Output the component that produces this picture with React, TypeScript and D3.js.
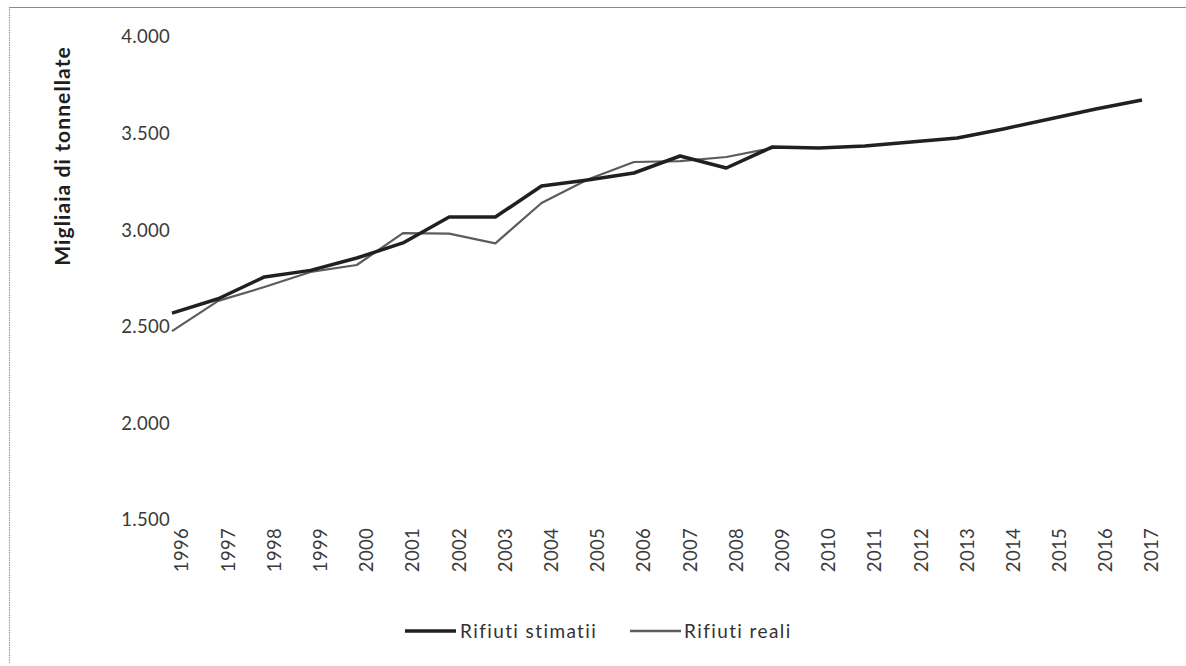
import React from "react";
import * as d3 from "d3";

const years = ["1996","1997","1998","1999","2000","2001","2002","2003","2004","2005","2006","2007","2008","2009","2010","2011","2012","2013","2014","2015","2016","2017"];
const stimati = [2571,2645,2758,2792,2856,2934,3068,3068,3229,3260,3296,3384,3322,3431,3425,3436,3457,3477,3524,3576,3627,3674];
const reali = [2478,2634,2706,2784,2820,2985,2982,2932,3141,3262,3353,3358,3379,3425];
const yTicks = [1500,2000,2500,3000,3500,4000];
const seriesNames = ["Rifiuti stimatii","Rifiuti reali"];

const W = 1186, H = 666;
const FONT = "Lato, 'Open Sans', sans-serif";

export default function App() {
  const x = d3.scalePoint<string>().domain(years).range([172, 1142]);
  const y = d3.scaleLinear().domain([1500, 4000]).range([520, 37]);
  const fmt = (v: number) => d3.format(",")(v).replace(/,/g, ".");
  const line = d3.line<number>().x((_, i) => x(years[i]) as number).y((d) => y(d));

  return (
    <svg width={W} height={H} style={{ position: "absolute", left: 0, top: 0, background: "#fff" }}>
      <rect x={0} y={0} width={W} height={H} fill="#fff" />
      <line x1={9} x2={W} y1={7.5} y2={7.5} stroke="#8a8a8a" strokeWidth={1} />
      <line x1={9.5} x2={9.5} y1={7} y2={663} stroke="#9a9a9a" strokeWidth={1.2} strokeDasharray="1.5,1" />
      {yTicks.map((t) => (
        <text key={t} x={170} y={y(t)} dy="0.35em" textAnchor="end" fontFamily={FONT} fontSize={18.5} fill="#3a3a3a" letterSpacing={0.3}>
          {fmt(t)}
        </text>
      ))}
      <text transform={`translate(70,156) rotate(-90)`} textAnchor="middle" fontFamily={FONT} fontWeight="bold" fontSize={21} letterSpacing={1.1} fill="#1e1e1e">
        Migliaia di tonnellate
      </text>
      {years.map((yr) => (
        <text key={yr} transform={`translate(${(x(yr) as number) + 10},528) rotate(-90)`} dy="0.35em" textAnchor="end" fontFamily={FONT} fontSize={18.5} fill="#3a3a3a" letterSpacing={0.3}>
          {yr}
        </text>
      ))}
      <path d={line(reali) || ""} fill="none" stroke="#5c5c5c" strokeWidth={2.2} strokeLinejoin="round" />
      <path d={line(stimati) || ""} fill="none" stroke="#231f20" strokeWidth={3.5} strokeLinejoin="round" />
      <g fontFamily={FONT} fontSize={19} fill="#333" letterSpacing={1.4}>
        <line x1={405} x2={456} y1={631} y2={631} stroke="#231f20" strokeWidth={3.5} />
        <text x={460} y={631} dy="0.35em">{seriesNames[0]}</text>
        <line x1={630} x2={681} y1={631} y2={631} stroke="#5c5c5c" strokeWidth={2.4} />
        <text x={684} y={631} dy="0.35em">{seriesNames[1]}</text>
      </g>
    </svg>
  );
}
